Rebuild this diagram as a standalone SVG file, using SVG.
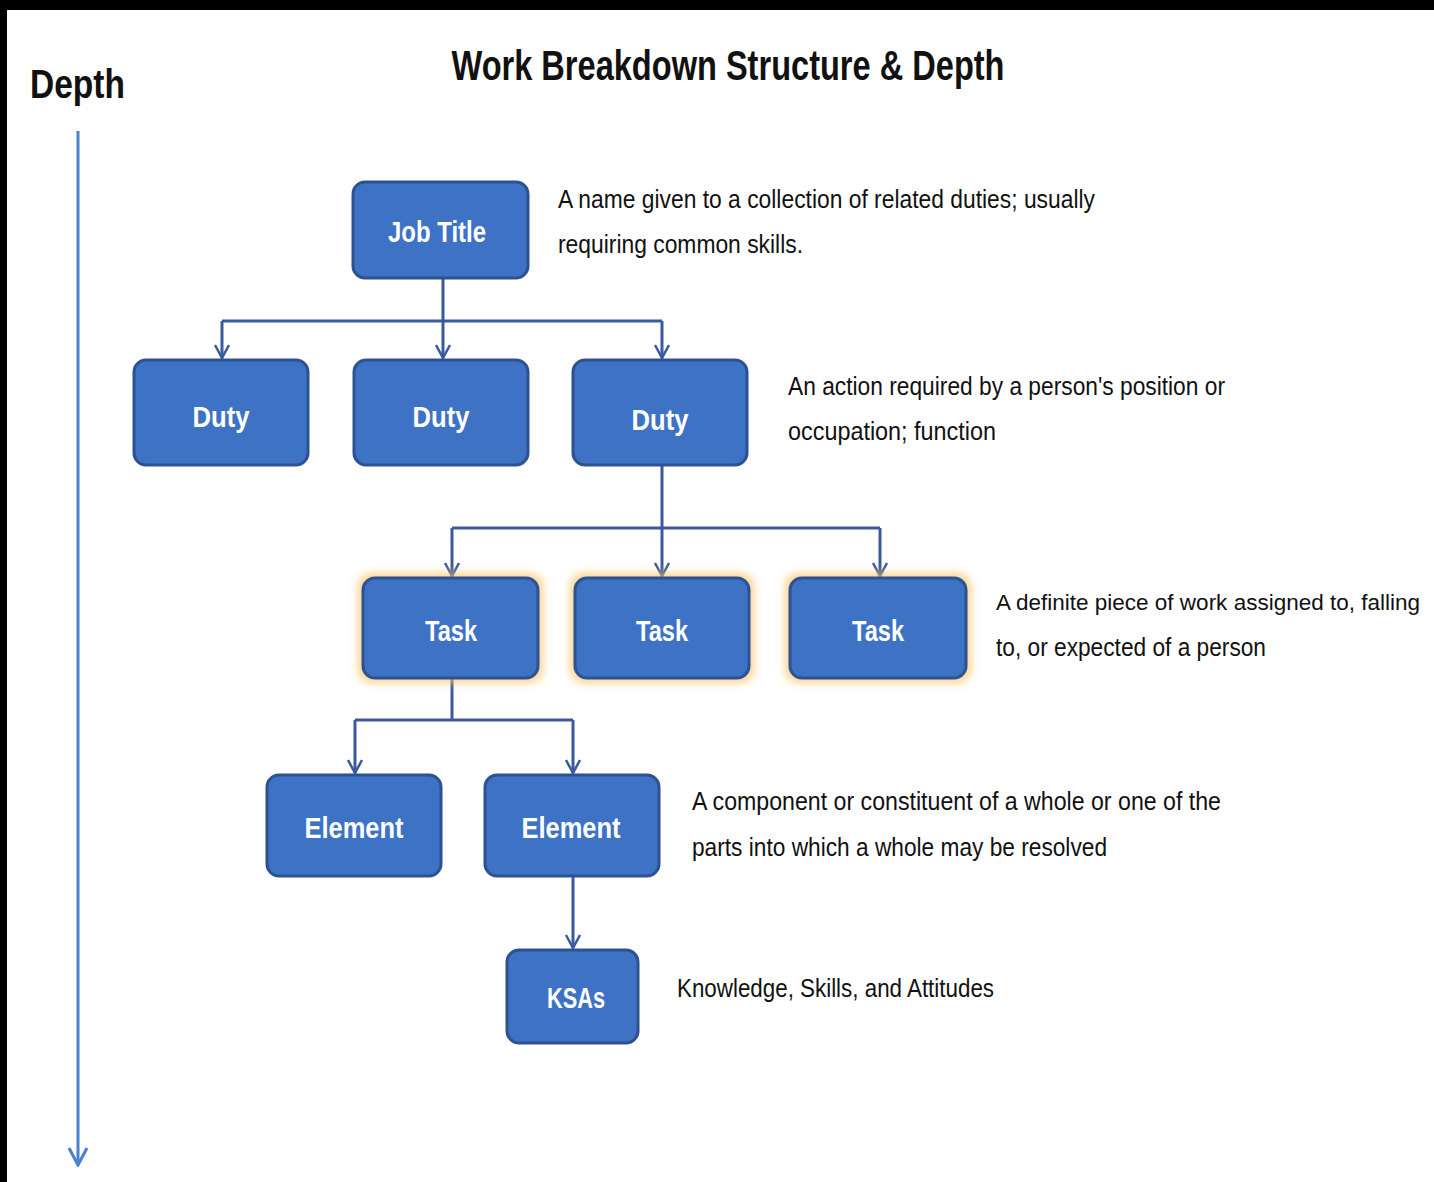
<svg xmlns="http://www.w3.org/2000/svg" width="1434" height="1182" viewBox="0 0 1434 1182">
<defs>
<style>
.node{fill:#3d72c4;stroke:#2c5291;stroke-width:3}
.lbl{font-family:"Liberation Sans",Arial,sans-serif;font-weight:bold;font-size:30px;fill:#ffffff;text-anchor:middle}
.desc{font-family:"Liberation Sans",Arial,sans-serif;font-size:26px;fill:#111111}
.conn{fill:none;stroke:#3a5a9e;stroke-width:3}
.glow{fill:#f9c36a;opacity:0.75;filter:url(#blur)}
</style>
<filter id="blur" x="-20%" y="-20%" width="140%" height="140%">
<feGaussianBlur stdDeviation="4"/>
</filter>
<marker id="ah" viewBox="0 0 20 20" refX="18" refY="10" markerWidth="20" markerHeight="20" markerUnits="userSpaceOnUse" orient="auto">
<path d="M5,3 L18,10 L5,17" fill="none" stroke="#3a5a9e" stroke-width="2.5"/>
</marker>
<marker id="ah2" viewBox="0 0 24 24" refX="22" refY="12" markerWidth="24" markerHeight="24" markerUnits="userSpaceOnUse" orient="auto">
<path d="M5,3 L22,12 L5,21" fill="none" stroke="#4a80d0" stroke-width="3"/>
</marker>
</defs>
<rect x="0" y="0" width="1434" height="1182" fill="#ffffff"/>
<rect x="0" y="0" width="1434" height="10" fill="#000000"/>
<rect x="0" y="0" width="7" height="1182" fill="#000000"/>
<text x="728" y="80" font-family="Liberation Sans,Arial,sans-serif" font-weight="bold" font-size="42" fill="#111111" text-anchor="middle" textLength="553" lengthAdjust="spacingAndGlyphs">Work Breakdown Structure &amp; Depth</text>
<g id="depth-axis">
<text x="30" y="98" font-family="Liberation Sans,Arial,sans-serif" font-weight="bold" font-size="40" fill="#111111" textLength="95" lengthAdjust="spacingAndGlyphs">Depth</text>
<line x1="78" y1="131" x2="78" y2="1165" stroke="#4a80d0" stroke-width="3" marker-end="url(#ah2)"/>
</g>
<g id="connectors">
<path class="conn" d="M443,279 V321 M222,321 H662"/>
<path class="conn" d="M222,321 V358" marker-end="url(#ah)"/>
<path class="conn" d="M443,321 V358" marker-end="url(#ah)"/>
<path class="conn" d="M662,321 V358" marker-end="url(#ah)"/>
<path class="conn" d="M662,466 V528 M452,528 H880"/>
<path class="conn" d="M452,528 V576" marker-end="url(#ah)"/>
<path class="conn" d="M662,528 V576" marker-end="url(#ah)"/>
<path class="conn" d="M880,528 V576" marker-end="url(#ah)"/>
<path class="conn" d="M452,679 V720 M355,720 H573"/>
<path class="conn" d="M355,720 V773" marker-end="url(#ah)"/>
<path class="conn" d="M573,720 V773" marker-end="url(#ah)"/>
<path class="conn" d="M573,877 V948" marker-end="url(#ah)"/>
</g>
<g id="job-title">
<rect class="node" x="353" y="182" width="175" height="96" rx="12"/>
<text class="lbl" x="437" y="242" textLength="98" lengthAdjust="spacingAndGlyphs">Job Title</text>
</g>
<g id="duty-1">
<rect class="node" x="134" y="360" width="174" height="105" rx="12"/>
<text class="lbl" x="221" y="427" textLength="57" lengthAdjust="spacingAndGlyphs">Duty</text>
</g>
<g id="duty-2">
<rect class="node" x="354" y="360" width="174" height="105" rx="12"/>
<text class="lbl" x="441" y="427" textLength="57" lengthAdjust="spacingAndGlyphs">Duty</text>
</g>
<g id="duty-3">
<rect class="node" x="573" y="360" width="174" height="105" rx="12"/>
<text class="lbl" x="660" y="430" textLength="57" lengthAdjust="spacingAndGlyphs">Duty</text>
</g>
<g id="task-1">
<rect class="glow" x="358" y="573" width="185" height="110" rx="14"/>
<rect class="node" x="363" y="578" width="175" height="100" rx="12"/>
<text class="lbl" x="451" y="641" textLength="52" lengthAdjust="spacingAndGlyphs">Task</text>
</g>
<g id="task-2">
<rect class="glow" x="570" y="573" width="184" height="110" rx="14"/>
<rect class="node" x="575" y="578" width="174" height="100" rx="12"/>
<text class="lbl" x="662" y="641" textLength="52" lengthAdjust="spacingAndGlyphs">Task</text>
</g>
<g id="task-3">
<rect class="glow" x="785" y="573" width="186" height="110" rx="14"/>
<rect class="node" x="790" y="578" width="176" height="100" rx="12"/>
<text class="lbl" x="878" y="641" textLength="52" lengthAdjust="spacingAndGlyphs">Task</text>
</g>
<g id="element-1">
<rect class="node" x="267" y="775" width="174" height="101" rx="12"/>
<text class="lbl" x="354" y="838" textLength="99" lengthAdjust="spacingAndGlyphs">Element</text>
</g>
<g id="element-2">
<rect class="node" x="485" y="775" width="174" height="101" rx="12"/>
<text class="lbl" x="571" y="838" textLength="99" lengthAdjust="spacingAndGlyphs">Element</text>
</g>
<g id="ksas">
<rect class="node" x="507" y="950" width="131" height="93" rx="12"/>
<text class="lbl" x="576" y="1008" textLength="58" lengthAdjust="spacingAndGlyphs">KSAs</text>
</g>
<g id="descriptions">
<text class="desc" x="558" y="208" textLength="537" lengthAdjust="spacingAndGlyphs">A name given to a collection of related duties; usually</text>
<text class="desc" x="558" y="253" textLength="245" lengthAdjust="spacingAndGlyphs">requiring common skills.</text>
<text class="desc" x="788" y="395" textLength="437" lengthAdjust="spacingAndGlyphs">An action required by a person's position or</text>
<text class="desc" x="788" y="440" textLength="208" lengthAdjust="spacingAndGlyphs">occupation; function</text>
<text class="desc" x="996" y="610" style="font-size:22px" textLength="424" lengthAdjust="spacingAndGlyphs">A definite piece of work assigned to, falling</text>
<text class="desc" x="996" y="656" textLength="270" lengthAdjust="spacingAndGlyphs">to, or expected of a person</text>
<text class="desc" x="692" y="810" textLength="529" lengthAdjust="spacingAndGlyphs">A component or constituent of a whole or one of the</text>
<text class="desc" x="692" y="856" textLength="415" lengthAdjust="spacingAndGlyphs">parts into which a whole may be resolved</text>
<text class="desc" x="677" y="997" textLength="317" lengthAdjust="spacingAndGlyphs">Knowledge, Skills, and Attitudes</text>
</g>
</svg>
